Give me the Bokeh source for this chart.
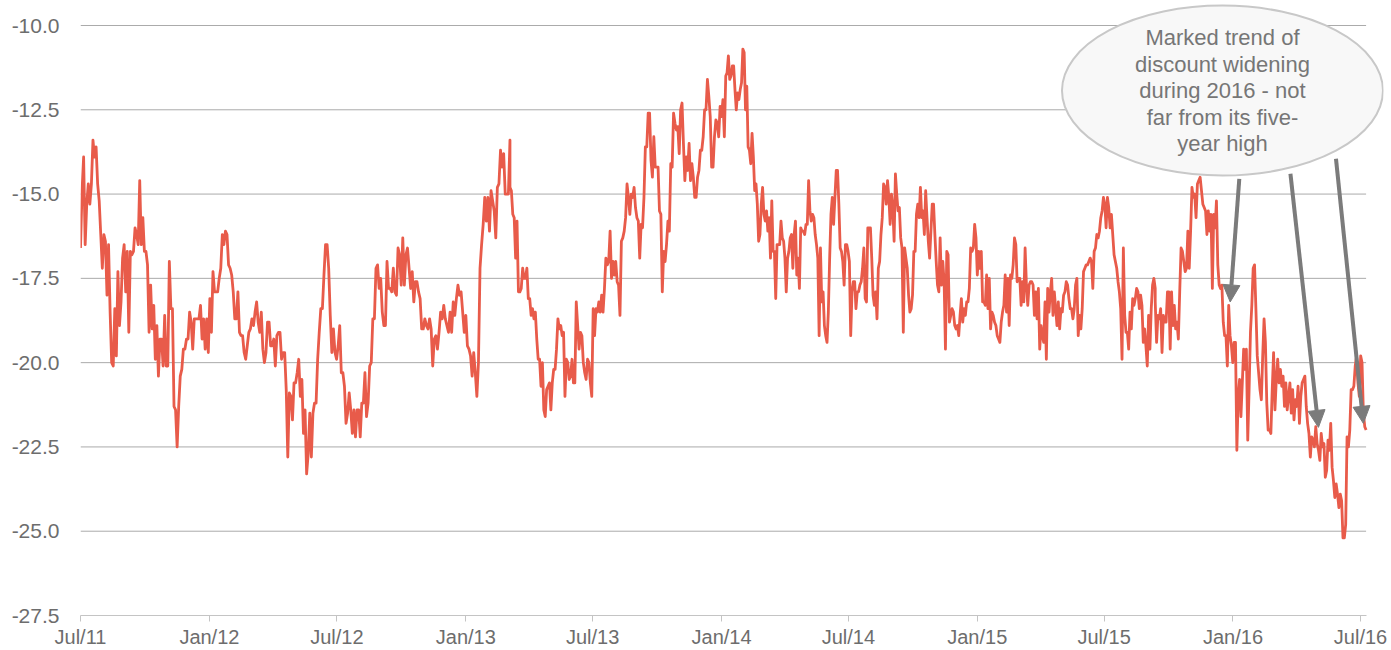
import numpy as np
import pandas as pd
from bokeh.plotting import figure
from bokeh.models import (Range1d, FixedTicker, NumeralTickFormatter, Arrow,
                          NormalHead, ColumnDataSource)
from bokeh.core.properties import value
from bokeh.embed import file_html
from bokeh.resources import INLINE

# ---------------- data (discount, %) ----------------
# boundaries of the reading segments (dates)
seg_bounds = ["2011-07-01", "2012-05-03", "2013-03-05", "2014-01-07",
              "2014-11-09", "2015-09-12", "2016-07-09"]

seg1 = [-16.6, -14.9, -13.9, -16.5, -15.3, -14.7, -15.3, -14.7, -13.4, -13.9, -13.6, -14.7, -15.2, -16.2,
        -17.2, -16.2, -16.4, -18.0, -16.5, -18.5, -20.0, -20.1, -18.4, -19.8, -17.3, -18.9, -18.2, -16.9,
        -16.5, -17.9, -16.7, -19.1, -16.7, -16.8, -16.7, -16.0, -16.2, -16.5, -14.6, -16.5, -15.7, -16.7,
        -16.7, -17.1, -19.1, -17.7, -19.0, -18.3, -19.9, -18.9, -20.4, -19.3, -19.3, -20.1, -18.6, -20.1,
        -20.1, -17.0, -18.4, -18.4, -21.3, -21.4, -22.5, -21.3, -20.4, -20.2, -19.6, -19.6, -19.3, -19.3,
        -18.5, -18.8, -19.6, -18.7, -18.7, -18.7, -18.7, -18.3, -19.3, -18.7, -19.6, -18.7, -19.7, -18.1,
        -19.1, -17.3, -17.9, -17.9, -17.9, -17.5, -17.2, -16.2, -16.5, -16.1, -16.2, -17.1, -17.2, -17.4,
        -17.9, -18.7, -18.7, -17.9, -19.1, -19.2, -19.2, -19.7, -19.9, -19.5, -19.1, -19.0, -18.7, -18.9,
        -18.5, -18.2, -18.8, -19.1, -18.5, -19.6, -20.0, -19.7, -18.8, -18.8, -19.5, -19.5, -19.3, -20.1,
        -19.2, -19.1, -19.1, -19.9, -19.7, -19.7, -20.8, -22.8, -20.9, -21.0, -21.7, -20.6, -20.6]

seg2 = [-20.6, -20.3, -19.9, -21.0, -20.5, -22.1, -21.4, -23.3, -22.7, -21.5, -22.8, -21.5, -21.2, -21.2,
        -19.9, -19.1, -18.4, -18.4, -17.4, -16.5, -16.5, -17.2, -18.6, -19.7, -19.0, -19.7, -19.9, -19.5,
        -18.9, -20.3, -20.3, -20.7, -21.8, -21.5, -20.9, -21.4, -22.1, -21.4, -22.2, -21.4, -21.4, -22.2,
        -21.2, -21.2, -20.3, -21.6, -21.2, -20.1, -20.0, -18.7, -18.7, -17.2, -17.1, -17.8, -17.5, -18.5,
        -18.9, -18.9, -17.0, -17.8, -17.8, -17.9, -17.2, -17.9, -18.0, -16.6, -16.8, -17.7, -16.3, -17.7,
        -16.8, -16.6, -17.2, -17.8, -17.3, -18.2, -17.6, -17.6, -17.9, -18.1, -19.0, -19.0, -18.7, -18.9,
        -19.0, -18.7, -19.0, -20.1, -19.3, -19.2, -19.6, -19.1, -18.5, -18.7, -18.3, -18.7, -18.9, -19.1,
        -18.5, -19.1, -18.2, -18.6, -18.1, -17.7, -18.0, -17.9, -18.5, -19.1, -18.6, -19.5, -19.6, -19.8,
        -20.4, -19.7, -20.3, -21.0, -20.0, -17.2, -16.5, -15.9, -15.1, -15.8, -15.1, -16.1, -14.9, -15.2,
        -15.5, -16.3, -14.8, -14.7, -13.7, -14.2, -13.8, -15.0, -15.0, -15.0, -13.4]

seg3 = [-14.8, -14.9, -15.6, -15.7, -16.9, -15.8, -17.9, -17.9, -17.8, -17.2, -17.5, -17.5, -17.2, -18.1,
        -18.1, -18.6, -18.4, -18.7, -18.5, -19.3, -19.9, -19.9, -20.7, -20.0, -21.4, -21.6, -20.8, -20.7,
        -20.6, -21.4, -20.6, -20.2, -20.2, -19.6, -18.7, -19.0, -18.9, -19.2, -19.1, -21.0, -19.9, -20.0,
        -20.5, -20.4, -19.9, -20.6, -20.6, -18.2, -18.9, -19.6, -19.1, -19.2, -20.0, -20.3, -20.5, -19.9,
        -20.0, -20.6, -21.0, -18.4, -19.2, -18.4, -18.5, -18.2, -18.5, -18.0, -18.5, -17.8, -16.9, -17.1,
        -17.0, -16.1, -17.5, -17.0, -17.4, -17.0, -17.6, -17.7, -18.6, -16.4, -16.3, -16.1, -15.7, -14.7,
        -15.1, -15.6, -15.0, -15.1, -14.8, -15.4, -15.7, -15.8, -16.9, -15.9, -16.0, -15.1, -13.6, -13.6,
        -12.6, -12.6, -14.0, -14.5, -13.3, -14.2, -14.2, -14.2, -15.5, -15.6, -17.9, -16.7, -17.0, -16.5,
        -15.8, -16.1, -14.1, -14.2, -12.6, -12.9, -13.1, -13.0, -13.8, -12.5, -12.3, -13.5, -14.6, -13.9,
        -14.3, -13.5, -14.6, -14.1, -14.5, -15.1, -15.1, -14.5, -14.3, -13.7, -13.7, -13.3, -12.5, -12.5,
        -11.6, -12.1, -12.7, -14.2, -14.2, -13.3, -12.8, -12.9, -13.3, -12.4, -12.7, -12.2, -13.3, -11.5]

seg4 = [-11.5, -11.4, -10.9, -11.6, -11.5, -11.2, -11.2, -11.9, -12.5, -12.0, -12.2, -11.9, -11.7, -10.7,
        -10.8, -12.5, -11.8, -13.6, -13.7, -14.1, -13.2, -13.9, -14.9, -14.7, -15.3, -16.4, -16.2, -15.3,
        -14.8, -15.6, -15.8, -15.5, -16.1, -15.7, -16.9, -15.2, -16.7, -16.7, -18.1, -16.5, -16.5, -16.5,
        -15.8, -16.3, -16.4, -16.9, -17.9, -16.9, -16.7, -16.3, -16.2, -17.2, -16.2, -15.8, -17.4, -16.9,
        -17.8, -16.0, -16.1, -16.1, -16.2, -15.9, -15.9, -14.6, -15.5, -15.8, -15.6, -15.7, -16.2, -16.5,
        -16.9, -19.2, -16.6, -18.2, -17.9, -18.9, -19.2, -19.4, -18.5, -16.9, -15.6, -15.1, -15.9, -15.1,
        -14.3, -14.3, -15.3, -16.6, -16.7, -17.0, -17.7, -16.5, -16.5, -16.7, -17.0, -19.2, -17.9, -17.6,
        -17.6, -18.4, -17.9, -17.9, -17.7, -17.6, -17.2, -16.6, -18.1, -18.2, -16.0, -16.0, -16.0, -16.9,
        -18.0, -18.3, -17.9, -18.7, -17.2, -17.0, -16.2, -15.7, -14.7, -14.8, -15.3, -14.6, -15.1, -15.9,
        -15.0, -15.4, -16.4, -14.4, -15.0, -15.5, -15.4, -16.3, -16.6, -19.1, -16.6, -16.9, -17.2, -18.0,
        -18.5, -18.4, -18.0, -16.7, -16.7, -15.6, -15.3, -15.7, -14.8, -15.7, -15.5, -16.2, -14.9, -15.7,
        -16.4, -16.9, -16.1, -15.3, -15.3, -16.2, -17.0, -17.7, -17.9, -16.3]

seg5 = [-16.3, -17.7, -17.0, -17.6, -19.6, -16.7, -16.8, -18.8, -18.6, -18.4, -18.5, -18.9, -19.0, -18.9,
        -19.2, -18.6, -18.1, -18.8, -18.4, -18.6, -18.2, -18.2, -17.8, -16.6, -16.7, -16.6, -15.9, -16.3,
        -17.4, -16.7, -17.2, -16.7, -18.2, -18.2, -18.3, -17.4, -18.4, -17.5, -19.0, -18.5, -18.6, -18.8,
        -18.9, -19.2, -19.3, -19.4, -18.8, -18.5, -18.3, -17.4, -18.5, -17.5, -18.9, -17.4, -17.5, -17.1,
        -16.3, -16.5, -17.6, -17.5, -17.5, -18.3, -17.6, -18.2, -16.6, -17.7, -18.3, -17.7, -17.6, -17.6,
        -17.7, -18.6, -17.9, -18.7, -17.8, -19.6, -18.9, -19.2, -19.4, -18.2, -19.9, -17.8, -18.5, -17.9,
        -17.5, -18.6, -17.9, -18.4, -18.9, -18.2, -19.0, -18.4, -18.5, -18.0, -17.9, -17.6, -17.7, -18.1,
        -18.4, -18.4, -18.7, -18.4, -17.7, -17.5, -19.2, -18.6, -19.0, -18.4, -17.3, -17.2, -17.1, -17.1,
        -17.0, -16.9, -17.0, -17.8, -16.7, -16.6, -16.2, -16.3, -16.1, -15.7, -15.5, -15.1, -15.3, -16.0,
        -15.1, -15.4, -16.0, -15.6, -16.2, -16.8, -17.0, -17.2, -17.6, -17.9, -18.4, -19.9, -16.6, -18.6,
        -19.1, -19.1, -19.6, -18.5, -19.0, -18.1, -18.3, -18.1, -17.8, -17.9, -18.4, -18.0, -18.3, -19.4,
        -19.0, -19.5, -20.1, -18.6, -19.6, -18.4, -17.7, -17.5, -17.8]

seg6 = [-18.2, -19.4, -18.6, -18.7, -18.4, -19.7, -18.6, -18.8, -18.8, -17.9, -17.9, -19.6, -17.9, -18.9,
        -18.3, -19.0, -18.8, -19.3, -17.9, -16.6, -16.7, -17.0, -17.3, -17.2, -16.1, -17.2, -16.1, -14.8,
        -15.1, -15.0, -15.7, -14.7, -14.6, -14.5, -14.9, -15.3, -15.4, -15.5, -16.2, -15.5, -16.1, -15.6,
        -17.8, -15.6, -16.0, -15.2, -17.1, -17.7, -17.8, -17.7, -18.8, -19.2, -19.2, -20.1, -18.3, -19.2,
        -19.5, -20.0, -19.4, -19.4, -22.6, -21.0, -20.5, -21.6, -20.6, -19.6, -20.2, -19.6, -22.3, -20.8,
        -19.1, -18.3, -17.2, -17.1, -18.4, -19.8, -20.3, -20.8, -21.1, -19.8, -18.7, -19.4, -21.2, -22.0,
        -22.0, -22.1, -20.8, -19.7, -21.4, -20.5, -19.9, -20.6, -20.2, -20.7, -20.4, -21.3, -20.6, -21.4,
        -21.0, -20.6, -21.5, -20.8, -21.7, -21.1, -21.3, -20.7, -21.8, -21.0, -20.6, -20.5, -20.4, -21.3,
        -21.8, -22.1, -22.8, -22.2, -22.3, -22.5, -21.9, -22.4, -22.6, -22.9, -22.1, -22.5, -22.4, -23.4,
        -23.2, -22.3, -22.6, -21.8, -23.1, -23.5, -24.0, -23.6, -23.9, -24.3, -23.9, -24.1, -25.2, -25.2,
        -24.8, -22.2, -22.5, -22.0, -20.8, -20.8, -20.7, -20.1, -19.8, -20.6, -21.0, -19.8, -20.0, -21.5,
        -21.9, -22.0]

segments = [seg1, seg2, seg3, seg4, seg5, seg6]

x_tick_dates = ["2011-07-01", "2012-01-01", "2012-07-01", "2013-01-01", "2013-07-01", "2014-01-01",
                "2014-07-01", "2015-01-01", "2015-07-01", "2016-01-01", "2016-07-01"]
x_tick_labels = ["Jul/11", "Jan/12", "Jul/12", "Jan/13", "Jul/13", "Jan/14",
                 "Jul/14", "Jan/15", "Jul/15", "Jan/16", "Jul/16"]
y_ticks = [-27.5, -25.0, -22.5, -20.0, -17.5, -15.0, -12.5, -10.0]

annot_text = "Marked trend of\ndiscount widening\nduring 2016 - not\nfar from its five-\nyear high"
annot_center = ("2015-12-17", -11.93)
arrows = [(("2016-01-10", -14.55), ("2015-12-28", -18.2)),
          (("2016-03-23", -14.4), ("2016-05-02", -21.92)),
          (("2016-05-27", -13.95), ("2016-07-05", -21.8))]

# ---------------- build series ----------------
dates, vals = [], []
for i, seg in enumerate(segments):
    d = pd.date_range(seg_bounds[i], seg_bounds[i + 1], periods=len(seg))
    dates.extend(list(d))
    vals.extend(seg)
src = ColumnDataSource(dict(date=pd.to_datetime(dates), v=vals))


def ms(d):
    return pd.Timestamp(d).value / 1e6


# ---------------- layout ----------------
FRAME_W, FRAME_H = 1303, 615
TOP_PAD = 25                      # pixels between frame top and the -10.0 line
DAYS_PER_PX = 1827 / 1280.0
x0 = ms("2011-07-01")
x1 = x0 + FRAME_W * DAYS_PER_PX * 86400000
y1 = -27.5 + 17.5 * FRAME_H / (FRAME_H - TOP_PAD)
axis_end = ms(seg_bounds[-1])

FONT = "Liberation Sans"
LINE_RED = "#e85b4a"

p = figure(frame_width=FRAME_W, frame_height=FRAME_H, x_axis_type="datetime",
           output_backend="svg", toolbar_location=None,
           x_range=Range1d(x0, x1), y_range=Range1d(-27.5, y1),
           min_border_left=80, min_border_right=8, min_border_top=0, min_border_bottom=33)
p.outline_line_color = None
p.background_fill_color = "white"
p.xgrid.visible = False
p.ygrid.visible = False

# grid lines (stop at the end of the x axis)
for yv in y_ticks[1:]:
    p.segment(x0=[x0], y0=[yv], x1=[axis_end], y1=[yv], line_color="#ababab", line_width=1)

p.line(x="date", y="v", source=src, line_color=LINE_RED, line_width=2.8, line_join="round")

# y axis
p.yaxis.ticker = FixedTicker(ticks=y_ticks)
p.yaxis.formatter = NumeralTickFormatter(format="0.0")
p.yaxis.axis_line_color = None
p.yaxis.major_tick_line_color = None
p.yaxis.minor_tick_line_color = None
p.yaxis.major_tick_out = 0
p.yaxis.major_label_standoff = 21
p.yaxis.major_label_text_font = FONT
p.yaxis.major_label_text_font_size = "21px"
p.yaxis.major_label_text_color = "#6d6d6d"

# x axis
tick_ms = [ms(d) for d in x_tick_dates]
p.xaxis.ticker = FixedTicker(ticks=tick_ms, minor_ticks=[])
p.xaxis.major_label_overrides = {t: l for t, l in zip(tick_ms, x_tick_labels)}
p.xaxis.bounds = (x0, axis_end)
p.xaxis.axis_line_color = "#c4c4c4"
p.xaxis.major_tick_line_color = "#c4c4c4"
p.xaxis.minor_tick_line_color = None
p.xaxis.major_tick_out = 6
p.xaxis.major_tick_in = 0
p.xaxis.major_label_standoff = 4
p.xaxis.major_label_text_font = FONT
p.xaxis.major_label_text_font_size = "20px"
p.xaxis.major_label_text_color = "#6d6d6d"

# annotation bubble
cx, cy = ms(annot_center[0]), annot_center[1]
p.ellipse(x=[cx], y=[cy], width=321, height=170, width_units="screen", height_units="screen",
          fill_color="#f8f8f8", line_color="#c8c8c8", line_width=2)
p.text(x=[cx], y=[cy], text=[annot_text], text_align="center", text_baseline="middle",
       text_font=value(FONT), text_font_size="22px", text_color="#767676",
       text_line_height=1.06)

for (sd, sy), (ed, ey) in arrows:
    p.add_layout(Arrow(x_start=ms(sd), y_start=sy, x_end=ms(ed), y_end=ey,
                       line_color="#7b7b7b", line_width=4,
                       end=NormalHead(size=17, fill_color="#7b7b7b", line_color="#7b7b7b")))

open("out.html", "w").write(file_html(p, INLINE))
